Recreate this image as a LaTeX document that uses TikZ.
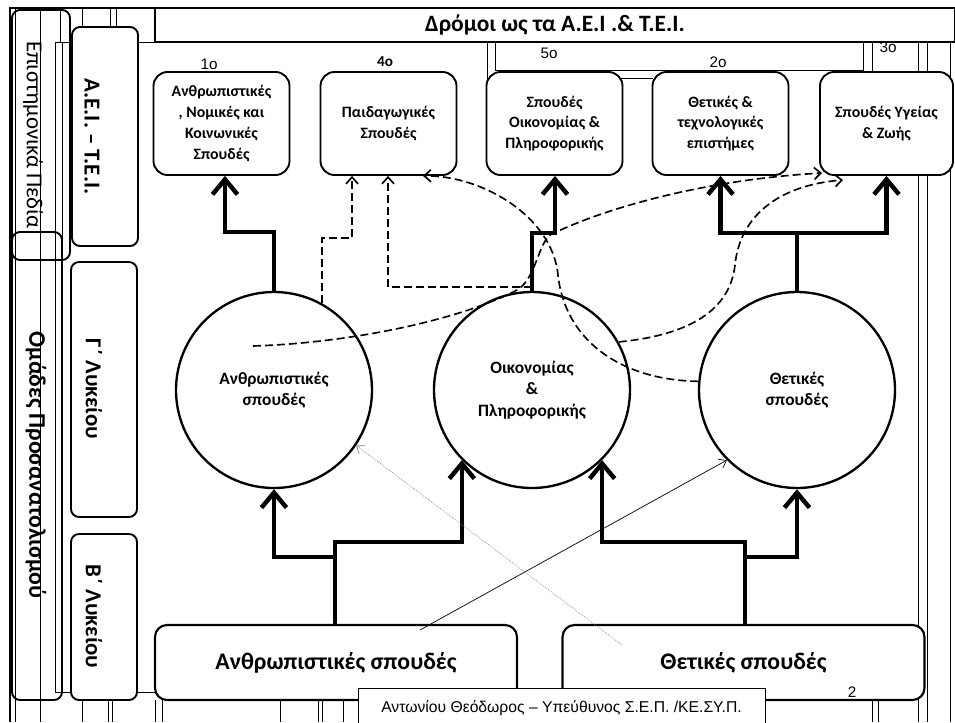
\documentclass[tikz,border=0pt]{standalone}
\usepackage{fontspec}
\setmainfont{Carlito}
\newfontfamily\arialfont{Liberation Sans}
\usetikzlibrary{arrows.meta}

\tikzset{
	frame/.style={line width=0.5pt},
	field/.style={draw, fill=white, line width=1.6pt, rounded corners=4.2mm, align=center, minimum width=40.8mm, minimum height=30.9mm, font=\bfseries\fontsize{13.5}{17.7}\selectfont},
	lane/.style={draw, fill=white, line width=1.6pt, rounded corners=2.4mm, minimum width=19.8mm},
	lanetext/.style={rotate=-90, font=\bfseries\fontsize{19.5}{22}\selectfont},
	group/.style={circle, draw, line width=2pt, align=center, minimum size=58.8mm, font=\bfseries\fontsize{14.8}{18.5}\selectfont},
	track/.style={draw, fill=white, line width=1.8pt, rounded corners=3.6mm, minimum width=108.6mm, minimum height=22.5mm, font=\bfseries\fontsize{20.3}{24}\selectfont},
	flow/.style={line width=3.8pt, -{Straight Barb[length=4.5mm, width=7.5mm]}},
	dflow/.style={line width=1.4pt, dash pattern=on 2.4mm off 1.2mm, -{Straight Barb[length=2mm, width=3.6mm]}},
	hint/.style={line width=0.6pt, -{Straight Barb[length=2mm, width=3mm]}},
	num/.style={font=\arialfont\fontsize{13}{15}\selectfont}
}

\begin{document}
\begin{tikzpicture}[x=0.3mm, y=-0.3mm]
			%%%%% START %%%%%
			\useasboundingbox (0,0) rectangle (955,722);
			\clip (0,0) rectangle (955,722);
			
			\draw[line width=2.4pt] (10,722) -- (10,8) -- (955,8);
			\draw[frame] (15,8) -- (15,722);
			\draw[frame] (40,8) -- (40,722);
			\draw[frame] (55,42) rectangle (62,692);
			\draw[frame] (55,42) -- (155,42);
			\draw[frame] (62,692) -- (155,692);
			\draw[frame] (60,8) -- (60,42);
			\draw[frame] (82,8) -- (82,27);
			\draw[frame] (110,8) -- (110,27);
			\draw[frame] (116,8) -- (116,27);
			\foreach \x in {82,108,112,155,162,280,318,322,343,872,878}
				\draw[frame] (\x,700) -- (\x,722);
			\foreach \x in {918,927,950}
				\draw[frame] (\x,42) -- (\x,722);
			
			\draw[frame] (495,42) rectangle (863,70);
			\draw[frame] (487,42) -- (487,78) -- (653,78);
			\draw[frame] (872,42) -- (872,72);
			
			\node[num] (n3) at (888,47) {3ο};
			\node[draw, fill=white, line width=1.2pt, minimum width=240mm, minimum height=10.2mm, font=\bfseries\fontsize{20}{22}\selectfont] (title) at (555,25) {Δρόμοι ως τα Α.Ε.Ι .\& Τ.Ε.Ι.};
			
			\node[num] (n1) at (209,64) {1ο};
			\node[font=\bfseries\fontsize{13}{15}\selectfont] (n4) at (385,62) {4ο};
			\node[num] (n5) at (549,53) {5ο};
			\node[num] (n2) at (718,62) {2ο};
			
			\node[draw, line width=1.6pt, rounded corners=2.4mm, minimum width=17.4mm, minimum height=75mm] (pedia) at (41,135) {};
			\node[draw, line width=1.6pt, rounded corners=2.4mm, minimum width=15mm, minimum height=140.4mm] (omades) at (37,466) {};
			\node[rotate=-90, font=\fontsize{19.5}{22}\selectfont] (pediatext) at (33,135) {Επιστημονικά Πεδία};
			\node[rotate=-90, font=\bfseries\fontsize{20.3}{22}\selectfont] (omadestext) at (36,465) {Ομάδες Προσανατολισμού};
			
			\node[lane, minimum height=65.7mm] (aei) at (105,136.5) {};
			\node[lane, minimum height=76.5mm] (glyk) at (104,389.5) {};
			\node[lane, minimum height=49.8mm] (blyk) at (104,617) {};
			\node[lanetext] (aeitext) at (92,136.5) {Α.Ε.Ι. – Τ.Ε.Ι.};
			\node[lanetext] (glyktext) at (94,389) {Γ΄ Λυκείου};
			\node[lanetext] (blyktext) at (94,616.5) {Β΄ Λυκείου};
			
			\node[field] (box1) at (221.5,123.5) {Ανθρωπιστικές\\, Νομικές και\\Κοινωνικές\\Σπουδές};
			\node[field] (box2) at (388.5,123.5) {Παιδαγωγικές\\Σπουδές};
			\node[field] (box3) at (554.5,123.5) {Σπουδές\\Οικονομίας \&\\Πληροφορικής};
			\node[field] (box4) at (720.5,123.5) {Θετικές \&\\τεχνολογικές\\επιστήμες};
			\node[field, minimum width=39.9mm] (box5) at (886.5,123.5) {Σπουδές Υγείας\\\& Ζωής};
			
			\node[group] (c1) at (274,390) {Ανθρωπιστικές\\σπουδές};
			\node[group] (c2) at (532,390) {Οικονομίας\\\&\\Πληροφορικής};
			\node[group] (c3) at (797,390) {Θετικές\\σπουδές};
			
			\node[track] (b1) at (336,662.5) {Ανθρωπιστικές σπουδές};
			\node[track] (b2) at (743.5,662.5) {Θετικές σπουδές};
			\node[num] (n2b) at (852,692) {2};
			
			\coordinate (j1) at (335,542);
			\coordinate (j2) at (335,557);
			\coordinate (j3) at (745,542);
			\coordinate (j4) at (745,557);
			\coordinate (k1) at (225,232);
			\coordinate (k2) at (555,233);
			\coordinate (k3) at (797,233);
			
			\draw[flow] (b1.north -| j1) -- (j1) -| (c2.south west);
			\draw[flow] (j2) -| (c1.south);
			\draw[flow] (b2.north -| j3) -- (j3) -| (c2.south east);
			\draw[flow] (j4) -| (c3.south);
			
			\draw[flow] (c1.north) |- (k1) -- (k1 |- box1.south);
			\draw[flow] (c2.north) |- (k2) -- (k2 |- box3.south);
			\draw[flow] (c3.north) -- (k3) -| (box4.south);
			\draw[flow] (k3) -| (box5.south);
			
			\coordinate (m1) at (352,238);
			\coordinate (m2) at (388,287);
			\coordinate (a0) at (253,346);
			\coordinate (d4) at (423,175);
			\coordinate (e5) at (822,173);
			\coordinate (f5) at (843,180);
			
			\draw[dflow] (c1.61) |- (m1) -- (m1 |- box2.south);
			\draw[dflow] (c2.north |- m2) -- (m2) -- (m2 |- box2.south);
			\draw[dflow] (c3.175) .. controls (620,380) and (565,340) .. (558,275) .. controls (552,215) and (480,175) .. (box2.south -| d4);
			\draw[dflow] (a0) .. controls (350,343) and (460,320) .. (517,290) .. controls (535,280) and (538,245) .. (550,235) .. controls (600,210) and (700,180) .. (e5);
			\draw[dflow] (c2.29) .. controls (690,335) and (730,310) .. (735,265) .. controls (740,215) and (780,185) .. (f5);
			
			\coordinate (s1) at (420,630);
			\coordinate (s2) at (622,645);
			\draw[hint] (s1) -- (c3.south west);
			\draw[hint, gray, densely dotted] (s2) -- (c1.-34);
			
			\node[draw, fill=white, line width=0.6pt, minimum width=122.1mm, minimum height=12mm, font=\arialfont\fontsize{13.4}{15}\selectfont] (footer) at (561.5,708) {Αντωνίου Θεόδωρος – Υπεύθυνος Σ.Ε.Π. /ΚΕ.ΣΥ.Π.};
			
			%%%%% END %%%%%
		\end{tikzpicture}
\end{document}
